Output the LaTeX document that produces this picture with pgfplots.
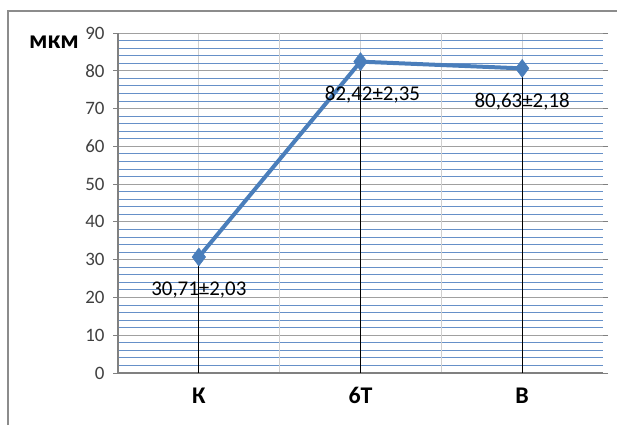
\documentclass[border=0pt]{standalone}
\usepackage{pgfplots}
\pgfplotsset{compat=1.18}
\usepackage{pgfplotstable}
\usepackage{fontspec}
\setmainfont{Carlito}
\definecolor{ln}{HTML}{4A7EBB}
\definecolor{mgrid}{HTML}{6690C8}
\definecolor{Mgrid}{HTML}{A0A0A0}
\definecolor{vgrid}{HTML}{CFCFCF}
\definecolor{txt}{HTML}{404040}
\pgfplotstableread{
x y dx lab
0.5 30.71 0 30,71±2,03
1.5 82.42 12 82,42±2,35
2.5 80.63 0 80,63±2,18
}\datatab
\begin{document}
\begin{tikzpicture}[x=1bp,y=1bp]
\path[use as bounding box] (0,0) rectangle (617,425);
\draw[color=gray!90, line width=1.5bp] (8,0) -- (8,414) -- (617,414);
\begin{axis}[
  at={(118bp,52bp)}, anchor=south west,
  scale only axis, width=485bp, height=340bp,
  xmin=0, xmax=3, ymin=0, ymax=90,
  xtick={0.5,1.5,2.5},
  xticklabels={К,6Т,В},
  extra x ticks={1,2},
  extra x tick labels={},
  extra x tick style={grid=major, major tick length=0pt},
  ytick={0,10,...,90},
  minor y tick num=4,
  xmajorgrids, ymajorgrids, yminorgrids,
  major grid style={color=Mgrid, line width=1bp},
  minor grid style={color=mgrid, line width=0.9bp},
  x grid style={color=vgrid, line width=1bp},
  tick align=outside,
  major tick length=5bp,
  x tick style={draw=none},
  minor y tick style={draw=none},
  y tick style={color=gray, line width=1bp},
  axis line style={draw=none},
  /pgf/number format/assume math mode=true,
  yticklabel style={font=\fontsize{19}{21}\selectfont, color=txt, xshift=-5bp},
  xticklabel style={font=\fontsize{24}{26}\selectfont\bfseries, color=black, yshift=-6bp},
  clip=false,
]
% axis lines
\draw[color=gray, line width=1.1bp] (axis cs:0,90) -- (axis cs:0,0) -- (axis cs:3,0);
% drop lines
\addplot[ycomb, black, line width=0.8bp, no marks] table[x=x,y=y] {\datatab};
% series
\addplot[color=ln, line width=4bp, mark=diamond*, mark size=9bp,
  mark options={fill=ln, draw=ln, line width=0.5bp},
  point meta=explicit symbolic,
  visualization depends on={\thisrow{dx} \as \dx},
  nodes near coords,
  nodes near coords style={anchor=center, yshift=-33bp, xshift=\dx,
     font=\fontsize{21}{23}\selectfont, color=black, inner sep=0pt},
] table[x=x,y=y,meta=lab] {\datatab};
\end{axis}
\node[font=\fontsize{26}{28}\selectfont\bfseries, anchor=center] at (54,383) {мкм};
\end{tikzpicture}
\end{document}
